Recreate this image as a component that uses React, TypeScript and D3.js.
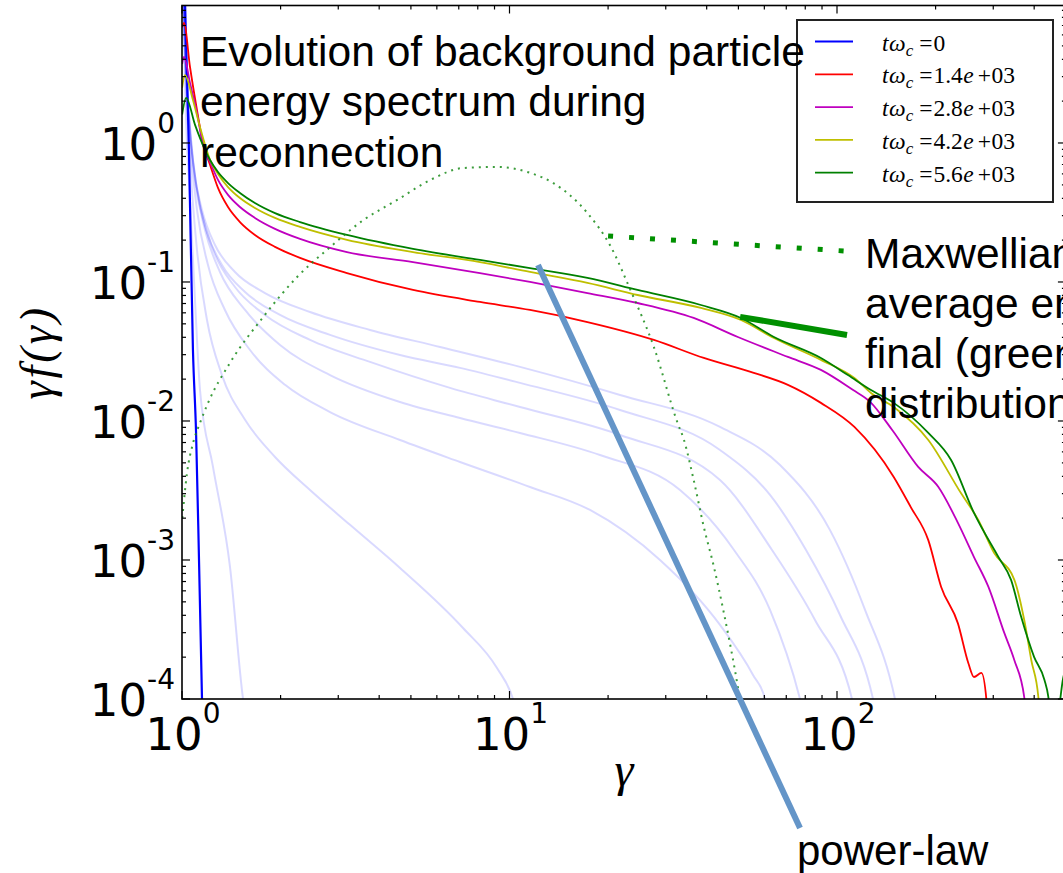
import React from 'react';
import * as d3 from 'd3';

type Pt = [number, number];

const X_MIN = 1;
const X_MAX = 500;
const Y_MIN = 1e-4;
const Y_MAX = 9.75;

const xMajorTicks = [1, 10, 100];
const xTickExponents = ['0', '1', '2'];
const yMajorTicks = [1e-4, 1e-3, 1e-2, 1e-1, 1];
const yTickExponents = ['-4', '-3', '-2', '-1', '0'];

const legendValues = ['0', '1.4e+03', '2.8e+03', '4.2e+03', '5.6e+03'];
const seriesColors = ['#0000ff', '#ff0000', '#bf00bf', '#bfbf00', '#008000'];

// t*omega_c = 0
const spectrumT0: Pt[] = [
  [1.004, 40], [1.021, 10.7], [1.05, 0.89], [1.08, 0.0324], [1.104, 0.0082],
  [1.127, 0.001], [1.151, 1e-4], [1.159, 5e-5],
];
// t*omega_c = 1.4e3
const spectrumT1400: Pt[] = [
  [1.001, 6.8], [1.014, 7.3], [1.058, 3.52], [1.111, 1.73], [1.159, 1.0], [1.218, 0.695],
  [1.288, 0.475], [1.382, 0.346], [1.503, 0.270], [1.670, 0.218], [1.923, 0.179], [2.293, 0.149],
  [3.19, 0.116], [5.075, 0.0876], [8.125, 0.0718], [11.55, 0.0629], [17.3, 0.0515], [27.6, 0.0383],
  [39.2, 0.0284], [55.7, 0.0222], [70.8, 0.0182], [89.3, 0.0135], [113, 0.00906], [149, 0.00396],
  [168, 0.0024], [190, 0.00139], [208, 0.00064], [234, 0.00035], [252, 0.00018], [262, 0.000144],
  [276, 0.000154], [286, 9.8e-5], [290, 5e-5],
];
// t*omega_c = 2.8e3
const spectrumT2800: Pt[] = [
  [1.001, 3.7], [1.014, 4.16], [1.058, 2.70], [1.111, 1.64], [1.159, 0.967], [1.218, 0.73],
  [1.288, 0.542], [1.382, 0.423], [1.503, 0.346], [1.670, 0.289], [1.923, 0.241], [2.293, 0.204],
  [3.19, 0.164], [5.075, 0.139], [8.125, 0.116], [11.55, 0.100], [17.3, 0.0833], [24.6, 0.0706],
  [36.5, 0.0551], [49.8, 0.0402], [70.8, 0.0289], [89.3, 0.0233], [112, 0.0167], [126, 0.0138],
  [148, 0.0085], [177, 0.00467], [204, 0.00335], [234, 0.00185], [262, 0.00105], [290, 0.00064],
  [324, 0.0003], [348, 0.00019], [373, 0.000103], [380, 5e-5],
];
// t*omega_c = 4.2e3
const spectrumT4200: Pt[] = [
  [1.001, 2.5], [1.021, 3.08], [1.080, 2.04], [1.135, 1.30], [1.218, 0.755], [1.288, 0.598],
  [1.382, 0.482], [1.503, 0.402], [1.670, 0.341], [1.923, 0.289], [2.293, 0.249], [3.19, 0.201],
  [5.075, 0.164], [8.125, 0.139], [11.55, 0.118], [17.3, 0.0984], [24.6, 0.0806], [38.4, 0.065],
  [50.9, 0.0533], [64.2, 0.0395], [89.3, 0.0275], [113, 0.0204], [127, 0.0159], [149, 0.0126],
  [190, 0.0073], [239, 0.00303], [270, 0.00194], [302, 0.00112], [348, 0.00072], [373, 0.00037],
  [392, 0.00019], [412, 0.000103], [420, 5e-5],
];
// t*omega_c = 5.6e3
const spectrumT5600: Pt[] = [
  [1.001, 1.6], [1.029, 2.11], [1.096, 1.35], [1.176, 0.89], [1.218, 0.755], [1.288, 0.618],
  [1.382, 0.515], [1.503, 0.437], [1.670, 0.370], [1.923, 0.313], [2.293, 0.270], [3.19, 0.218],
  [5.075, 0.173], [8.125, 0.144], [11.55, 0.126], [17.3, 0.107], [24.6, 0.0876], [38.4, 0.0683],
  [50.9, 0.0551], [64.2, 0.0402], [89.3, 0.0284], [108, 0.0214], [127, 0.0167], [149, 0.0135],
  [190, 0.0082], [223, 0.00524], [262, 0.00218], [311, 0.00105], [340, 0.00072], [365, 0.00039],
  [400, 0.0002], [430, 0.000137], [442, 0.000103], [452, 6e-5], [470, 7e-5], [490, 1.4e-4],
  [500, 1.7e-4],
];

// faint intermediate snapshots
const snapshotA: Pt[] = [
  [1.004, 30], [1.0213, 2.839], [1.0578, 0.389], [1.0957, 0.0742], [1.1349, 0.0167],
  [1.2435, 0.00467], [1.4016, 0.00089], [1.536, 1e-4], [1.557, 8e-5],
];
const snapshotB: Pt[] = [
  [1.004, 30], [1.0213, 4.668], [1.0578, 0.7545], [1.1112, 0.1699], [1.1921, 0.0533],
  [1.3243, 0.0214], [1.5578, 0.0102], [1.9233, 0.00551], [2.46, 0.00319], [3.2584, 0.00179],
  [4.6313, 0.000876], [7.2132, 0.000324], [9.1588, 0.000167], [10.249, 1e-4], [10.6, 7.5e-5],
];
const snapshotC: Pt[] = [
  [1.004, 30], [1.0213, 5.508], [1.0578, 1.051], [1.1112, 0.3296], [1.2005, 0.1325],
  [1.3525, 0.0629], [1.6134, 0.0324], [2.0633, 0.0182], [2.8311, 0.0116], [4.6313, 0.0073],
  [7.0626, 0.00507], [11.55, 0.00335], [17.617, 0.00229], [28.812, 0.001], [43.933, 0.000341],
  [55.41, 0.000149], [60.288, 1e-4], [62, 7e-5],
];
const snapshotD: Pt[] = [
  [1.004, 30], [1.0142, 6.501], [1.0504, 1.464], [1.0957, 0.5418], [1.1754, 0.2366],
  [1.3058, 0.118], [1.5578, 0.0629], [1.9921, 0.0352], [2.8311, 0.0214], [4.6313, 0.0137],
  [7.0626, 0.0105], [10.767, 0.0082], [18.896, 0.00569], [33.165, 0.00319], [48.479, 0.00118],
  [62.443, 0.000437], [77.105, 1e-4], [80, 7e-5],
];
const snapshotE: Pt[] = [
  [1.004, 30], [1.0142, 7.673], [1.0431, 2.038], [1.0804, 0.7545], [1.1428, 0.3296],
  [1.2523, 0.1643], [1.4515, 0.092], [1.7924, 0.0579], [2.46, 0.0383], [3.75, 0.0266],
  [6.5822, 0.0173], [10.767, 0.0126], [21.75, 0.00793], [43.933, 0.00376], [63.327, 0.00118],
  [85.669, 0.00037], [111.12, 1e-4], [115, 7e-5],
];
const snapshotF: Pt[] = [
  [1.004, 30], [1.0142, 9.053], [1.0358, 2.839], [1.0653, 1.051], [1.1112, 0.459],
  [1.1921, 0.2289], [1.3243, 0.1325], [1.5578, 0.0847], [1.9921, 0.0579], [2.8311, 0.0416],
  [4.6313, 0.0298], [7.0626, 0.0241], [10.767, 0.0188], [21.75, 0.012], [43.933, 0.00618],
  [62.443, 0.00294], [80.43, 0.00118], [102.13, 0.000402], [128.82, 1e-4], [133, 7e-5],
];
const snapshotG: Pt[] = [
  [1.004, 30], [1.0142, 10.686], [1.0285, 3.955], [1.0504, 1.464], [1.0881, 0.6393],
  [1.1509, 0.3296], [1.2612, 0.1845], [1.4515, 0.118], [1.7924, 0.0833], [2.46, 0.0608],
  [3.75, 0.0452], [6.1357, 0.0341], [10.767, 0.0245], [21.75, 0.0154], [43.933, 0.00906],
  [66.987, 0.00482], [95.206, 0.00164], [121.8, 0.000437], [150.33, 1e-4], [155, 7e-5],
];
const faintSnapshots = [snapshotA, snapshotB, snapshotC, snapshotD, snapshotE, snapshotF, snapshotG];

// Maxwellian with the final average energy (dotted)
const maxwellian: Pt[] = [
  [1.002, 0.002], [1.036, 0.00423], [1.081, 0.00695], [1.135, 0.00968], [1.201, 0.0135],
  [1.40, 0.0261], [1.77, 0.056], [2.25, 0.109], [2.84, 0.179], [3.58, 0.279], [4.54, 0.389],
  [5.73, 0.542], [7.23, 0.661], [9.19, 0.672], [11.6, 0.608], [13.6, 0.515], [17.3, 0.313],
  [20.4, 0.179], [23.4, 0.0876], [27.6, 0.034], [32.6, 0.00968], [34.1, 0.0073], [36.5, 0.00377],
  [39.2, 0.00173], [42.1, 0.00089], [45.1, 0.00042], [49.8, 0.000122], [50.5, 1e-4], [51, 8e-5],
];

// overlay annotations (data coordinates)
const powerLawGuide: Pt[] = [[12.22, 0.1325], [77.1, 1.18e-5]];
const maxwellPointer: Pt[] = [[20.0, 0.214], [105.8, 0.167]];
const finalTangent: Pt[] = [[50.6, 0.0561], [107.3, 0.0416]];

const titleLines = ['Evolution of background particle', 'energy spectrum during', 'reconnection'];
const maxwellLines = ['Maxwellian with', 'average energy of', 'final (green)', 'distribution'];

export default function App() {
  const W = 1063;
  const H = 873;
  const left = 182;
  const bottom = 699;
  const top = 5.5;
  const right = left + 327.5 * Math.log10(X_MAX);

  const x = d3.scaleLog().domain([X_MIN, X_MAX]).range([left, right]);
  const y = d3.scaleLog().domain([Y_MIN, Y_MAX]).range([bottom, top]);
  const line = d3
    .line<Pt>()
    .x((d) => x(d[0]))
    .y((d) => y(d[1]))
    .curve(d3.curveMonotoneX);
  const straight = d3
    .line<Pt>()
    .x((d) => x(d[0]))
    .y((d) => y(d[1]));

  const xTicks = x.ticks();
  const yTicks = y.ticks();
  const isMajor = (v: number) => Math.abs(Math.log10(v) - Math.round(Math.log10(v))) < 1e-9;

  const colored = [spectrumT0, spectrumT1400, spectrumT2800, spectrumT4200, spectrumT5600];

  const tickFont = 'DejaVu Sans, sans-serif';
  const mathFont = 'Liberation Serif, serif';
  const annFont = 'Liberation Sans, Arial, sans-serif';

  const legX = 797;
  const legY = 20;
  const legW = 256;
  const legH = 182;
  const rowGap = 32.8;
  const firstRow = 41.5;

  return (
    <svg
      width={W}
      height={H}
      style={{ position: 'absolute', left: 0, top: 0, overflow: 'hidden' }}
      xmlns="http://www.w3.org/2000/svg"
    >
      <rect x={0} y={0} width={W} height={H} fill="#ffffff" />
      <defs>
        <clipPath id="plotArea">
          <rect x={left} y={top} width={right - left} height={bottom - top} />
        </clipPath>
      </defs>

      <g clipPath="url(#plotArea)">
        {faintSnapshots.map((s, i) => (
          <path key={'f' + i} d={line(s) || ''} fill="none" stroke="#0000ff" strokeOpacity={0.15} strokeWidth={2} />
        ))}
        {colored.map((s, i) => (
          <path
            key={'c' + i}
            d={line(s) || ''}
            fill="none"
            stroke={seriesColors[i]}
            strokeWidth={i === 0 ? 2.2 : 1.8}
            strokeLinejoin="round"
          />
        ))}
        <path
          d={line(maxwellian) || ''}
          fill="none"
          stroke="#1a8c1a"
          strokeOpacity={0.85}
          strokeWidth={2}
          strokeDasharray="2,5"
        />
      </g>

      {/* spines */}
      <rect x={left} y={top} width={right - left} height={bottom - top} fill="none" stroke="#000" strokeWidth={1.6} />

      {xTicks.map((t, i) => {
        const len = isMajor(t) ? 8 : 4;
        const px = x(t);
        return (
          <g key={'xt' + i}>
            <line x1={px} x2={px} y1={bottom} y2={bottom - len} stroke="#000" strokeWidth={1.2} />
            <line x1={px} x2={px} y1={top} y2={top + len} stroke="#000" strokeWidth={1.2} />
          </g>
        );
      })}
      {yTicks.map((t, i) => {
        const len = isMajor(t) ? 8 : 4;
        const py = y(t);
        return (
          <g key={'yt' + i}>
            <line x1={left} x2={left + len} y1={py} y2={py} stroke="#000" strokeWidth={1.2} />
            <line x1={right} x2={right - len} y1={py} y2={py} stroke="#000" strokeWidth={1.2} />
          </g>
        );
      })}

      {xMajorTicks.map((t, i) => (
        <text key={'xl' + i} x={x(t) + 1} y={bottom + 51} textAnchor="middle" fontFamily={tickFont} fill="#000">
          <tspan fontSize={45}>10</tspan>
          <tspan fontSize={28} dy={-27}>{xTickExponents[i]}</tspan>
        </text>
      ))}
      {yMajorTicks.map((t, i) => (
        <text key={'yl' + i} x={175} y={y(t) + 17} textAnchor="end" fontFamily={tickFont} fill="#000">
          <tspan fontSize={45}>10</tspan>
          <tspan fontSize={28} dy={-27}>{yTickExponents[i]}</tspan>
        </text>
      ))}

      <text x={(left + right) / 2} y={786} textAnchor="middle" fontFamily={mathFont} fontStyle="italic" fontSize={48} fill="#000">
        γ
      </text>
      <text
        transform={`translate(52, ${(top + bottom) / 2}) rotate(-90)`}
        textAnchor="middle"
        fontFamily={mathFont}
        fontStyle="italic"
        fontSize={46}
        letterSpacing={3}
        fill="#000"
      >
        γf(γ)
      </text>

      {/* legend */}
      <rect x={legX} y={legY} width={legW} height={legH} fill="#ffffff" stroke="#222" strokeWidth={2} />
      {legendValues.map((v, i) => {
        const cy = firstRow + i * rowGap;
        const m = v.match(/^([0-9.]+)(e)(\+)(\d+)$/);
        return (
          <g key={'lg' + i}>
            <line x1={815} x2={853} y1={cy} y2={cy} stroke={seriesColors[i]} strokeWidth={1.8} />
            <text x={882} y={cy + 9} fontFamily={mathFont} fontSize={23.5} fill="#000">
              <tspan fontStyle="italic">t</tspan>
              <tspan fontStyle="italic" dx={0.5}>ω</tspan>
              <tspan fontStyle="italic" fontSize={17} dy={5}>c</tspan>
              <tspan dx={6} dy={-5}>=</tspan>
              {m ? (
                <>
                  <tspan dx={1}>{m[1]}</tspan>
                  <tspan fontStyle="italic" dx={0.5}>{m[2]}</tspan>
                  <tspan dx={4}>{m[3]}</tspan>
                  <tspan dx={0.5}>{m[4]}</tspan>
                </>
              ) : (
                <tspan dx={1}>{v}</tspan>
              )}
            </text>
          </g>
        );
      })}

      {/* overlay annotations */}
      <path d={straight(powerLawGuide) || ''} stroke="#6495c8" strokeWidth={6} fill="none" />
      <path d={straight(maxwellPointer) || ''} stroke="#009000" strokeWidth={5} strokeDasharray="5,16" fill="none" />
      <path d={straight(finalTangent) || ''} stroke="#009000" strokeWidth={6} fill="none" />

      <text fontFamily={annFont} fontSize={42.5} fill="#000">
        {titleLines.map((l, i) => (
          <tspan key={'tl' + i} x={200} y={65.5 + i * 50.6}>
            {l}
          </tspan>
        ))}
      </text>
      <text fontFamily={annFont} fontSize={42.5} fill="#000">
        {maxwellLines.map((l, i) => (
          <tspan key={'ml' + i} x={865} y={268 + i * 50}>
            {l}
          </tspan>
        ))}
      </text>
      <text x={797} y={865} fontFamily={annFont} fontSize={42} fill="#000">
        power-law
      </text>
    </svg>
  );
}
